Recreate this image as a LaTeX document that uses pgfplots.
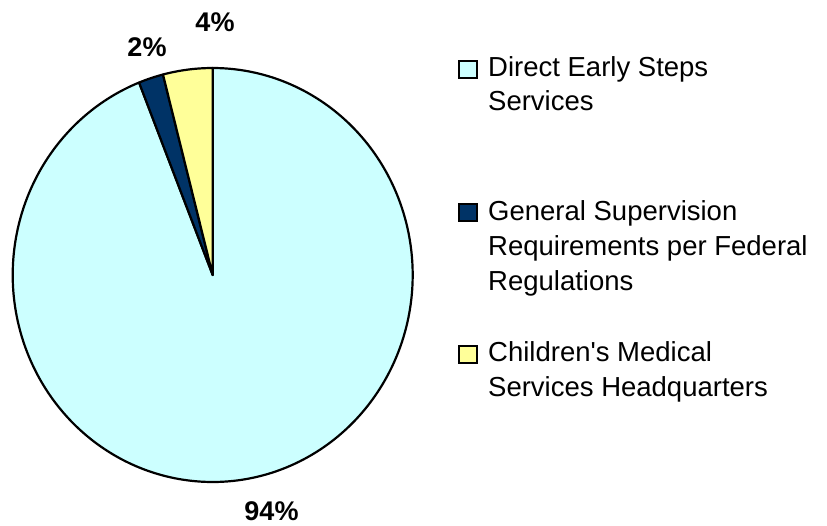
\documentclass[border=0pt]{standalone}
\usepackage{pgfplots}
\pgfplotsset{compat=1.18}
\usepackage{fontspec}
\setmainfont{Liberation Sans}
\definecolor{cDirect}{HTML}{CCFFFF}
\definecolor{cGeneral}{HTML}{003366}
\definecolor{cCMS}{HTML}{FFFF99}
% slice shares in percent, in clockwise order from 12 o'clock
\def\pA{94}
\def\pB{2}
\def\pC{4}
\begin{document}
\begin{tikzpicture}
\path[use as bounding box] (0,0) rectangle (827pt,-525pt);
\pgfmathsetmacro{\aA}{90}
\pgfmathsetmacro{\aB}{90-3.6*\pA}
\pgfmathsetmacro{\aC}{90-3.6*(\pA+\pB)}
\pgfmathsetmacro{\aD}{90-3.6*(\pA+\pB+\pC)}
\begin{axis}[
  at={(212.7pt,-275pt)}, anchor=center,
  scale only axis, width=400pt, height=414pt,
  xmin=-1, xmax=1, ymin=-1, ymax=1,
  hide axis, clip=false,
]
\addplot[fill=cDirect, draw=black, line width=2.2pt, line join=round, domain=\aB:\aA, samples=300, variable=\t]
  ({cos(\t)},{sin(\t)}) -- (axis cs:0,0) -- cycle;
\addplot[fill=cGeneral, draw=black, line width=2.2pt, line join=round, domain=\aC:\aB, samples=20, variable=\t]
  ({cos(\t)},{sin(\t)}) -- (axis cs:0,0) -- cycle;
\addplot[fill=cCMS, draw=black, line width=2.2pt, line join=round, domain=\aD:\aC, samples=20, variable=\t]
  ({cos(\t)},{sin(\t)}) -- (axis cs:0,0) -- cycle;
\end{axis}
% percentage labels
\tikzset{pct/.style={font=\bfseries\fontsize{27}{32}\selectfont, anchor=base, inner sep=0pt}}
\node[pct] at (215pt,-31.7pt) {4\%};
\node[pct] at (147pt,-56pt) {2\%};
\node[pct] at (271.5pt,-520.5pt) {94\%};
% legend
\tikzset{legtext/.style={font=\fontsize{27.5}{33}\selectfont, anchor=base west, inner sep=0pt}}
\draw[fill=cDirect, line width=1.3pt] (459pt,-61pt) rectangle (477pt,-78pt);
\node[legtext] at (488pt,-76pt) {Direct Early Steps};
\node[legtext] at (488pt,-110.5pt) {Services};
\draw[fill=cGeneral, line width=1.3pt] (459pt,-204pt) rectangle (477pt,-221pt);
\node[legtext] at (488pt,-220pt) {General Supervision};
\node[legtext] at (488pt,-255pt) {Requirements per Federal};
\node[legtext] at (488pt,-290pt) {Regulations};
\draw[fill=cCMS, line width=1.3pt] (459pt,-346pt) rectangle (477pt,-363pt);
\node[legtext] at (488pt,-361pt) {Children\textquotesingle s Medical};
\node[legtext] at (488pt,-396pt) {Services Headquarters};
\end{tikzpicture}
\end{document}
